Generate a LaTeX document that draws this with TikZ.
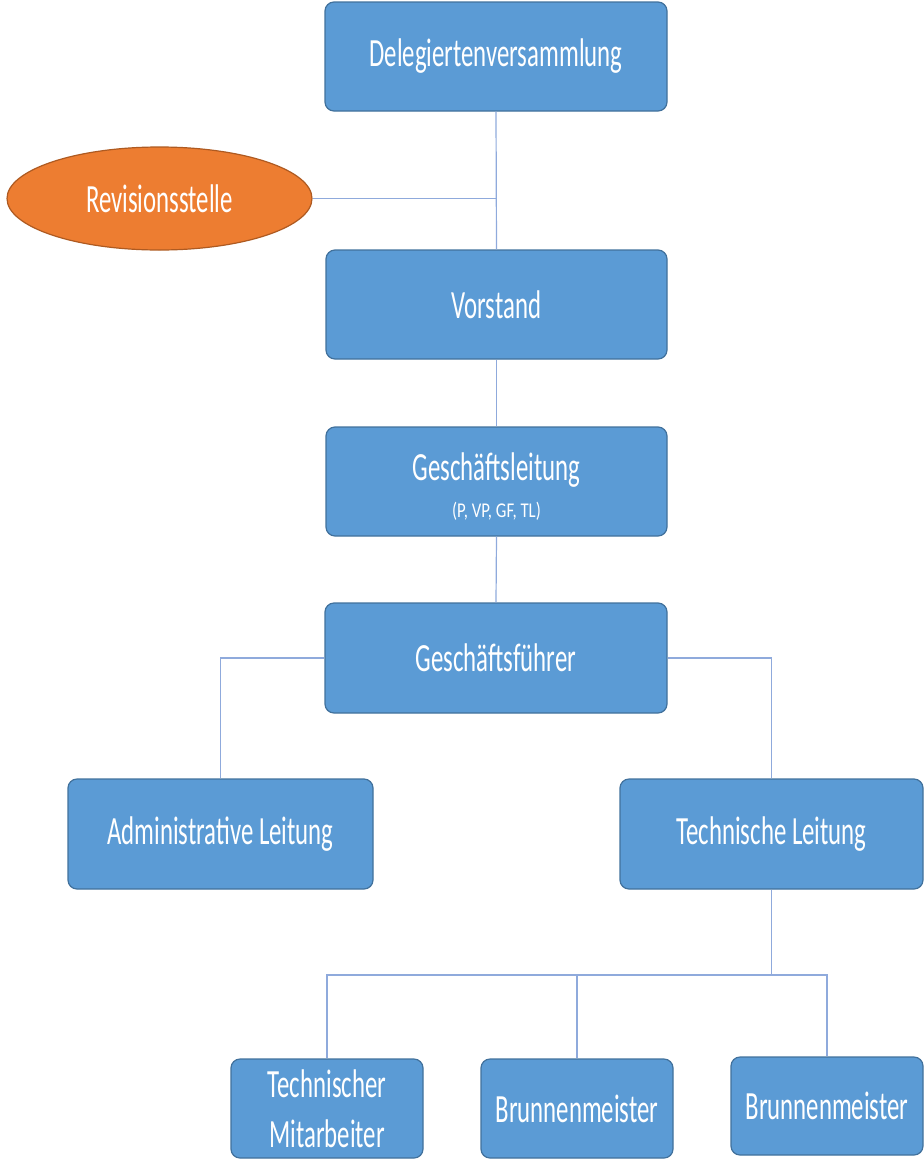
\documentclass[tikz,border=0pt]{standalone}
\usepackage{fontspec}
\setmainfont{Carlito}[FakeStretch=0.62]
\newfontfamily\subfont{Carlito}[FakeStretch=0.8]
\usetikzlibrary{shapes.geometric}
\definecolor{boxfill}{HTML}{5B9BD5}
\definecolor{boxline}{HTML}{41719C}
\definecolor{ovalfill}{HTML}{ED7D31}
\definecolor{ovalline}{HTML}{AE5A21}
\definecolor{conn}{HTML}{8FAADC}
\tikzset{
  unit/.style={x=1pt,y=-1pt},
  bigfont/.style={font=\fontsize{40}{50}\selectfont},
  orgbox/.style={draw=boxline, fill=boxfill, line width=1.2pt, rounded corners=9pt,
    text=white, bigfont, align=center, inner sep=0pt},
  orgoval/.style={ellipse, draw=ovalline, fill=ovalfill, line width=1.2pt,
    text=white, bigfont, inner sep=0pt},
  link/.style={draw=conn, line width=1.2pt},
  subtxt/.style={font=\subfont\fontsize{21}{24}\selectfont}
}
\begin{document}
\begin{tikzpicture}[unit]
\useasboundingbox (0,0) rectangle (924,1160);
\node[orgbox, minimum width=342pt, minimum height=109pt] (dv) at (496,56.5) {Delegiertenversammlung};
\node[orgoval, minimum width=305pt, minimum height=103pt] (rev) at (159.5,198.5) {Revisionsstelle};
\node[orgbox, minimum width=341pt, minimum height=109pt] (vs) at (496.5,304.5) {Vorstand};
\node[orgbox, minimum width=341pt, minimum height=109pt] (gl) at (496.5,481.5) {};
\node[text=white, bigfont, anchor=base, inner sep=0pt] (gltxt) at (496.5,480) {Geschäftsleitung};
\node[text=white, subtxt, anchor=base, inner sep=0pt] (glsub) at (496.5,517) {(P, VP, GF, TL)};
\node[orgbox, minimum width=342pt, minimum height=110pt] (gf) at (496,658) {Geschäftsführer};
\node[orgbox, minimum width=305pt, minimum height=110pt] (al) at (220.5,834) {Administrative Leitung};
\node[orgbox, minimum width=303pt, minimum height=110pt] (tl) at (771.5,834) {Technische Leitung};
\node[orgbox, minimum width=192pt, minimum height=99pt] (tm) at (327,1108.5) {Technischer\\Mitarbeiter};
\node[orgbox, minimum width=192pt, minimum height=99pt] (bm1) at (577,1108.5) {Brunnenmeister};
\node[orgbox, minimum width=192pt, minimum height=98pt] (bm2) at (827,1106) {Brunnenmeister};
\coordinate (j1) at (dv.south |- rev.east);
\coordinate (j2) at (tl.south |- 0,975);
\draw[link] (dv.south) -- (vs.north);
\draw[link] (rev.east) -- (j1);
\draw[link] (vs.south) -- (gl.north);
\draw[link] (gl.south) -- (gf.north);
\draw[link] (gf.west) -| (al.north);
\draw[link] (gf.east) -| (tl.north);
\draw[link] (tl.south) -- (j2);
\draw[link] (tm.north) |- (j2);
\draw[link] (bm2.north) |- (j2);
\draw[link] (bm1.north) -- (bm1.north |- j2);
\end{tikzpicture}
\end{document}
